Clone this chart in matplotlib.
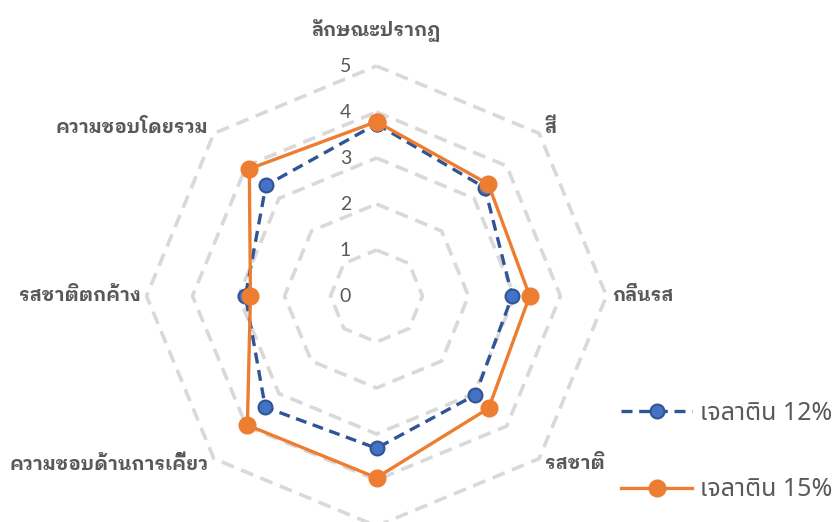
import numpy as np
import matplotlib
matplotlib.use('Agg')
import matplotlib.pyplot as plt
from matplotlib.transforms import ScaledTranslation

# data
categories = ['ลักษณะปรากฏ', 'สี', 'กลิ่นรส', 'รสชาติ', 'เนื้อสัมผัส',
              'ความชอบด้านการเคี้ยว', 'รสชาติตกค้าง', 'ความชอบโดยรวม']
gel_12 = [3.74, 3.33, 2.95, 3.04, 3.31, 3.42, 2.85, 3.40]
gel_15 = [3.79, 3.44, 3.33, 3.45, 3.95, 3.97, 2.74, 3.91]
series_names = ['เจลาติน 12%', 'เจลาติน 15%']
levels = [0, 1, 2, 3, 4, 5]

THAI_BOLD = ['IBM Plex Sans Thai Looped', 'DejaVu Sans']
THAI = ['Noto Sans Thai', 'DejaVu Sans']
GREY = '#595959'

n = len(categories)
theta = np.linspace(0, 2 * np.pi, n, endpoint=False)
theta_c = np.append(theta, theta[0])


def closed(v):
    return np.append(v, v[0])


fig = plt.figure(figsize=(8.34, 5.22), dpi=100)
W, H = 834, 522
cx, cy, R = 376.5, 296, 230
ax = fig.add_axes([(cx - R) / W, (H - cy - R) / H, 2 * R / W, 2 * R / H],
                  projection='polar')
ax.set_theta_offset(np.pi / 2)
ax.set_theta_direction(-1)
ax.set_ylim(0, 5)
ax.grid(False)
ax.spines['polar'].set_visible(False)
ax.set_xticks([])
ax.set_yticks([])
ax.patch.set_alpha(0)

# octagon gridlines
for lv in levels[1:]:
    ax.plot(theta_c, [lv] * (n + 1), color='#D9D9D9', lw=2.6,
            linestyle=(0, (3.6, 2.2)), zorder=1, clip_on=False)

# value labels
off = ax.transData + ScaledTranslation(-0.31, 0, fig.dpi_scale_trans)
for lv in levels:
    ax.text(0, lv, str(lv), transform=off, ha='center', va='center',
            fontsize=14, color=GREY, family='Lato')

# series
ax.plot(theta_c, closed(gel_12), color='#2F5597', lw=2.4,
        linestyle=(0, (3.3, 2)), marker='o', markersize=10,
        markerfacecolor='#4472C4', markeredgecolor='#2F5597',
        markeredgewidth=1.5, label=series_names[0], zorder=3, clip_on=False)
ax.plot(theta_c, closed(gel_15), color='#ED7D31', lw=2.4,
        marker='o', markersize=12, markerfacecolor='#ED7D31',
        markeredgecolor='#ED7D31', label=series_names[1], zorder=4,
        clip_on=False)

# category labels; the bottom one falls below the cropped picture, so skip it
label_r = [5.76, 5.17, 5.12, 5.17, None, 5.17, 5.12, 5.17]
for t, name, r in zip(theta, categories, label_r):
    if r is None:
        continue
    s = np.sin(t)
    ha = 'center' if abs(s) < 1e-6 else ('left' if s > 0 else 'right')
    ax.text(t, r, name, ha=ha, va='center', fontsize=13.6, fontweight='bold',
            color=GREY, family=THAI_BOLD, clip_on=False)

leg = fig.legend(loc='upper left', bbox_to_anchor=(621 / W, 1 - 401 / H),
                 frameon=False, borderpad=0, borderaxespad=0,
                 handlelength=2.85, handletextpad=0.3, labelspacing=2.05,
                 numpoints=1, prop={'family': THAI, 'size': 18})
for txt in leg.get_texts():
    txt.set_color(GREY)

fig.savefig('out.png', dpi=100)
